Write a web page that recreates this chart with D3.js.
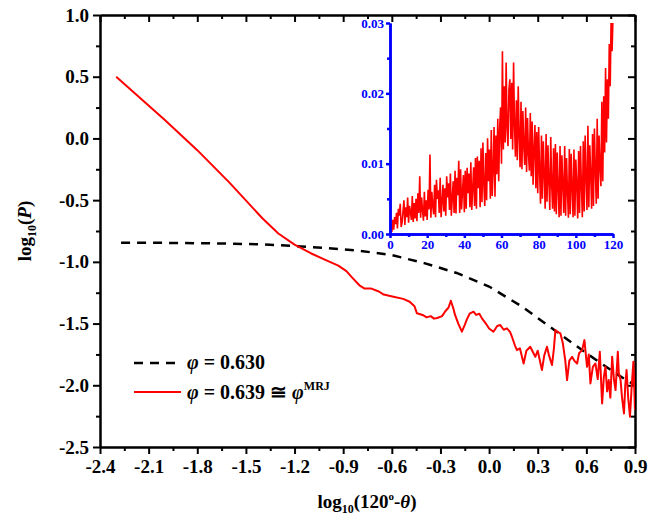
<!DOCTYPE html>
<html>
<head>
<meta charset="utf-8">
<title>log P vs log(120-theta)</title>
<script src="https://d3js.org/d3.v7.min.js"></script>
<style>
  body { margin: 0; background: #fff; }
  svg text { font-family: "Liberation Serif", "Times New Roman", "DejaVu Serif", serif; font-weight: bold; }
  .axis path, .axis line { stroke: #000; stroke-width: 2; }
  .axis text { font-size: 19px; fill: #000; }
  .inset path, .inset line { stroke: #0000ff; stroke-width: 2.5; }
  .inset text { font-size: 13px; fill: #0000ff; }
</style>
</head>
<body>
<svg id="chart" width="648" height="526"></svg>
<script>
// phi = 0.630 (dashed black)
var dashX = [-2.27, -2.0, -1.7, -1.4, -1.2, -1.0, -0.8, -0.6, -0.4, -0.2, 0.0, 0.2, 0.4, 0.6, 0.8, 0.9];
var dashY = [-0.845, -0.846, -0.85, -0.858, -0.872, -0.888, -0.91, -0.945, -1.01, -1.09, -1.2, -1.36, -1.55, -1.74, -1.92, -2.0];

// phi = 0.639 (red)
var redX = [-2.3, -2.0, -1.8, -1.6, -1.4, -1.3, -1.2, -1.1, -1.0, -0.93, -0.88, -0.85, -0.8, -0.77, -0.73, -0.68,
  -0.65, -0.59, -0.53, -0.49, -0.46, -0.445, -0.41, -0.385, -0.36, -0.34, -0.32, -0.29, -0.27, -0.25, -0.236,
  -0.22, -0.21, -0.19, -0.168, -0.15, -0.137, -0.12, -0.096, -0.08, -0.06, -0.044, -0.02, 0.0, 0.027, 0.05,
  0.069, 0.09, 0.11, 0.13, 0.141, 0.16, 0.172, 0.19, 0.213, 0.23, 0.254, 0.27, 0.285, 0.30, 0.326, 0.34,
  0.357, 0.37, 0.388, 0.40, 0.409, 0.425, 0.44, 0.455, 0.47, 0.481, 0.495, 0.512, 0.525, 0.543, 0.555, 0.574,
  0.588, 0.604, 0.615, 0.625, 0.64, 0.656, 0.67, 0.683, 0.697, 0.708, 0.718, 0.728, 0.738, 0.748, 0.759, 0.77,
  0.78, 0.794, 0.80, 0.811, 0.82, 0.832, 0.84, 0.848, 0.858, 0.869, 0.88, 0.89, 0.9];
var redY = [0.50, 0.15, -0.095, -0.36, -0.645, -0.77, -0.86, -0.93, -0.99, -1.03, -1.075, -1.12, -1.19, -1.215, -1.215, -1.24,
  -1.265, -1.283, -1.30, -1.323, -1.36, -1.417, -1.43, -1.45, -1.44, -1.46, -1.455, -1.44, -1.40, -1.37, -1.315,
  -1.38, -1.43, -1.50, -1.566, -1.51, -1.466, -1.42, -1.404, -1.43, -1.42, -1.458, -1.50, -1.54, -1.566, -1.52,
  -1.512, -1.55, -1.539, -1.57, -1.607, -1.68, -1.715, -1.70, -1.823, -1.72, -1.688, -1.73, -1.769, -1.72, -1.877, -1.76,
  -1.688, -1.76, -1.836, -1.70, -1.553, -1.57, -1.58, -1.66, -1.80, -1.958, -1.80, -1.769, -1.80, -1.823, -1.74, -1.715,
  -1.634, -1.85, -1.75, -1.985, -1.85, -1.823, -1.95, -1.729, -2.147, -1.93, -1.85, -2.05, -1.958, -2.10, -1.769, -1.95,
  -2.039, -1.729, -1.90, -1.958, -2.10, -2.228, -2.00, -1.877, -2.10, -2.255, -2.00, -1.81, -2.2];

// inset: P x 10^3 for phi = 0.639, every 0.5 deg from 0 to 120 (one row = 5 deg)
var insetStep = 0.5;
var insetP = [
  0, 1.2, 0.3, 2.0, 0.6, 2.4, 1.4, 3.0, 0.8, 3.6,
  2.6, 4.3, 1.0, 1.6, 3.2, 4.8, 1.3, 3.8, 2.4, 5.2,
  1.6, 4.0, 3.2, 2.0, 5.4, 1.7, 4.4, 2.2, 5.0, 1.8,
  5.8, 3.0, 8.2, 2.3, 5.2, 3.4, 1.9, 6.0, 2.5, 4.8,
  2.0, 6.3, 3.5, 11.3, 2.3, 6.0, 4.0, 2.8, 7.0, 2.4,
  7.7, 5.0, 6.2, 3.0, 8.0, 2.4, 4.5, 7.0, 3.2, 6.5,
  2.6, 8.2, 5.2, 7.2, 3.4, 8.6, 2.6, 5.0, 7.5, 3.0,
  9.0, 2.9, 8.0, 5.5, 10.4, 3.0, 9.2, 3.5, 6.0, 8.4,
  3.1, 9.0, 3.6, 9.4, 5.8, 8.6, 3.8, 10.2, 3.4, 6.5,
  9.5, 4.0, 10.8, 3.6, 11.0, 6.5, 10.4, 3.8, 12.2, 4.5,
  13.0, 7.0, 4.0, 11.5, 4.8, 13.6, 7.5, 12.0, 5.0, 14.8,
  5.4, 9.0, 15.2, 5.3, 14.0, 8.5, 16.4, 7.5, 15.0, 18.0,
  10.0, 26.0, 12.0, 21.0, 13.0, 24.4, 15.0, 12.5, 20.5, 22.0,
  13.5, 21.5, 12.0, 24.4, 15.5, 11.0, 19.0, 10.5, 21.0, 14.0,
  9.5, 18.8, 9.2, 17.5, 12.5, 9.8, 18.0, 8.8, 16.5, 11.5,
  9.0, 17.2, 8.2, 16.0, 7.0, 12.0, 15.5, 6.5, 14.5, 5.8,
  15.2, 9.0, 4.3, 14.0, 5.0, 13.2, 8.5, 3.6, 14.2, 4.6,
  12.6, 7.5, 3.4, 13.8, 7.0, 3.6, 12.2, 3.2, 12.8, 2.8,
  11.6, 6.5, 2.4, 12.5, 2.6, 11.2, 7.0, 3.0, 12.5, 2.6,
  10.8, 6.0, 2.3, 12.1, 2.8, 11.4, 6.5, 2.4, 12.0, 2.6,
  10.6, 7.0, 2.2, 11.8, 3.0, 12.5, 6.8, 2.4, 13.2, 3.2,
  14.0, 8.0, 3.4, 15.4, 3.8, 12.6, 8.5, 3.6, 14.2, 4.0,
  15.0, 9.0, 4.3, 16.4, 5.0, 14.0, 9.5, 6.8, 18.8, 7.5,
  19.6, 11.6, 23.6, 13.0, 22.0, 16.4, 27.0, 21.0, 31, 26,
  31];
// points above 0.03 are clipped at the inset frame

var xTicks = [-2.4, -2.1, -1.8, -1.5, -1.2, -0.9, -0.6, -0.3, 0.0, 0.3, 0.6, 0.9];
var yTicks = [1.0, 0.5, 0.0, -0.5, -1.0, -1.5, -2.0, -2.5];
var insetXTicks = [0, 20, 40, 60, 80, 100, 120];
var insetYTicks = [0, 10, 20, 30];

var svg = d3.select("#chart");

var x = d3.scaleLinear().domain([-2.4, 0.9]).range([100, 635]);
var y = d3.scaleLinear().domain([-2.5, 1.0]).range([447, 15]);

var xMinor = d3.range(0, 23).map(i => -2.4 + i * 0.15).filter(v => xTicks.every(t => Math.abs(t - v) > 1e-6));
var yMinor = d3.range(0, 15).map(i => -2.5 + i * 0.25).filter(v => yTicks.every(t => Math.abs(t - v) > 1e-6));

var fmt1 = d => d3.format(".1f")(d).replace("−", "-");

// bottom axis
svg.append("g").attr("class", "axis").attr("transform", "translate(0,447)")
  .call(d3.axisBottom(x).tickValues(xTicks).tickFormat(fmt1).tickSize(7).tickSizeOuter(0).tickPadding(6));
svg.append("g").attr("class", "axis").attr("transform", "translate(0,447)")
  .call(d3.axisBottom(x).tickValues(xMinor).tickFormat("").tickSize(4).tickSizeOuter(0));
// top axis
svg.append("g").attr("class", "axis").attr("transform", "translate(0,15)")
  .call(d3.axisTop(x).tickValues(xTicks).tickFormat("").tickSize(-7).tickSizeOuter(0));
svg.append("g").attr("class", "axis").attr("transform", "translate(0,15)")
  .call(d3.axisTop(x).tickValues(xMinor).tickFormat("").tickSize(-4).tickSizeOuter(0));
// left axis
svg.append("g").attr("class", "axis").attr("transform", "translate(100,0)")
  .call(d3.axisLeft(y).tickValues(yTicks).tickFormat(fmt1).tickSize(7).tickSizeOuter(0).tickPadding(4));
svg.append("g").attr("class", "axis").attr("transform", "translate(100,0)")
  .call(d3.axisLeft(y).tickValues(yMinor).tickFormat("").tickSize(4).tickSizeOuter(0));
// right axis
svg.append("g").attr("class", "axis").attr("transform", "translate(635,0)")
  .call(d3.axisRight(y).tickValues(yTicks).tickFormat("").tickSize(-7).tickSizeOuter(0));
svg.append("g").attr("class", "axis").attr("transform", "translate(635,0)")
  .call(d3.axisRight(y).tickValues(yMinor).tickFormat("").tickSize(-4).tickSizeOuter(0));

svg.selectAll(".axis").attr("font-family", null).attr("font-size", null);

// clip for main plot
svg.append("clipPath").attr("id", "mainClip").append("rect")
  .attr("x", 100).attr("y", 15).attr("width", 535).attr("height", 432);

var line = d3.line().x(d => x(d[0])).y(d => y(d[1]));

svg.append("path")
  .datum(dashX.map((v, i) => [v, dashY[i]]))
  .attr("clip-path", "url(#mainClip)")
  .attr("fill", "none").attr("stroke", "#000").attr("stroke-width", 2.5)
  .attr("stroke-dasharray", "9,7")
  .attr("d", line);

svg.append("path")
  .datum(redX.map((v, i) => [v, redY[i]]))
  .attr("clip-path", "url(#mainClip)")
  .attr("fill", "none").attr("stroke", "#ff0000").attr("stroke-width", 2)
  .attr("stroke-linejoin", "round")
  .attr("d", line);

// inset
var ix = d3.scaleLinear().domain([0, 120]).range([390, 613]);
var iy = d3.scaleLinear().domain([0, 30]).range([234, 23]);

svg.append("clipPath").attr("id", "insetClip").append("rect")
  .attr("x", 390).attr("y", 23).attr("width", 230).attr("height", 211);

svg.append("path")
  .datum(insetP.map((v, i) => [i * insetStep, v]))
  .attr("clip-path", "url(#insetClip)")
  .attr("fill", "none").attr("stroke", "#ff0000").attr("stroke-width", 1.6)
  .attr("d", d3.line().x(d => ix(d[0])).y(d => iy(d[1])));

svg.append("g").attr("class", "inset").attr("transform", "translate(0,234)")
  .call(d3.axisBottom(ix).tickValues(insetXTicks).tickSize(4).tickSizeOuter(0).tickPadding(2));
svg.append("g").attr("class", "inset").attr("transform", "translate(0,234)")
  .call(d3.axisBottom(ix).tickValues(d3.range(10, 120, 20)).tickFormat("").tickSize(3).tickSizeOuter(0));
svg.append("g").attr("class", "inset").attr("transform", "translate(390,0)")
  .call(d3.axisLeft(iy).tickValues(insetYTicks).tickFormat(d => (d / 1000).toFixed(2)).tickSize(4).tickSizeOuter(0).tickPadding(2));
svg.append("g").attr("class", "inset").attr("transform", "translate(390,0)")
  .call(d3.axisLeft(iy).tickValues([5, 15, 25]).tickFormat("").tickSize(3).tickSizeOuter(0));

svg.selectAll(".inset").attr("font-family", null).attr("font-size", null);

// axis titles
var yl = svg.append("text")
  .attr("transform", "translate(31,231) rotate(-90)")
  .attr("text-anchor", "middle")
  .style("font-size", "19px");
yl.append("tspan").text("log");
yl.append("tspan").attr("dy", 5).style("font-size", "12px").text("10");
yl.append("tspan").attr("dy", -5).text("(");
yl.append("tspan").style("font-style", "italic").text("P");
yl.append("tspan").text(")");

var xl = svg.append("text")
  .attr("x", 367).attr("y", 508)
  .attr("text-anchor", "middle")
  .style("font-size", "19px");
xl.append("tspan").text("log");
xl.append("tspan").attr("dy", 5).style("font-size", "12px").text("10");
xl.append("tspan").attr("dy", -5).text("(120");
xl.append("tspan").attr("dy", -8).style("font-size", "11px").text("o");
xl.append("tspan").attr("dy", 8).text("-");
xl.append("tspan").style("font-style", "italic").text("θ");
xl.append("tspan").text(")");

// legend
var legend = svg.append("g");
legend.append("line").attr("x1", 134).attr("x2", 181).attr("y1", 363).attr("y2", 363)
  .attr("stroke", "#000").attr("stroke-width", 2.5).attr("stroke-dasharray", "9,7");
legend.append("line").attr("x1", 134).attr("x2", 181).attr("y1", 392).attr("y2", 392)
  .attr("stroke", "#ff0000").attr("stroke-width", 2);

var t1 = legend.append("text").attr("x", 187).attr("y", 369).style("font-size", "20px");
t1.append("tspan").style("font-style", "italic").text("φ");
t1.append("tspan").text(" = 0.630");

var t2 = legend.append("text").attr("x", 187).attr("y", 399).style("font-size", "20px");
t2.append("tspan").style("font-style", "italic").text("φ");
t2.append("tspan").text(" = 0.639 ≅ ");
t2.append("tspan").style("font-style", "italic").text("φ");
t2.append("tspan").attr("dy", -9).style("font-size", "12px").text("MRJ");
</script>
</body>
</html>
